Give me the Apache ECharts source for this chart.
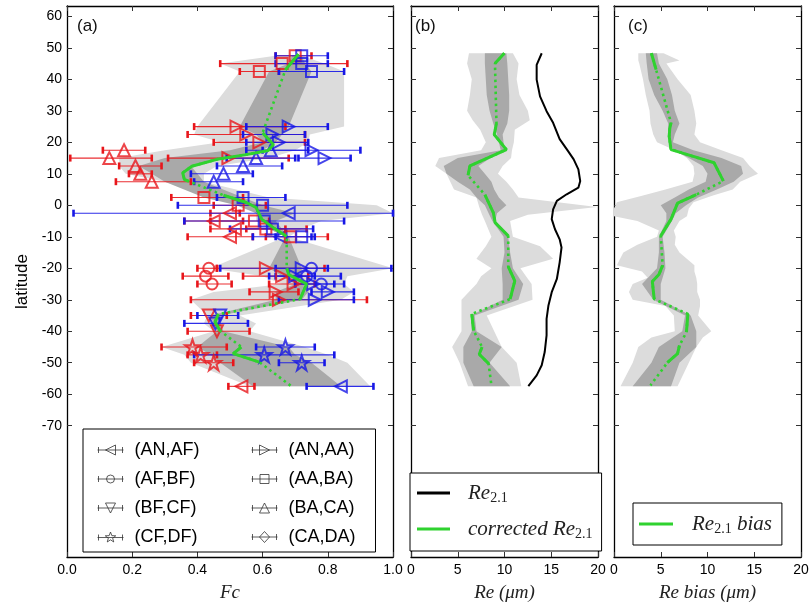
<!DOCTYPE html>
<html>
<head>
<meta charset="utf-8">
<script src="https://cdn.jsdelivr.net/npm/echarts@6/dist/echarts.min.js"></script>
<style>
  html, body { margin: 0; padding: 0; background: #fff; }
  #chart { width: 812px; height: 607px; }
</style>
</head>
<body>
<div id="chart"></div>
<script>
// ---- data: [lat, Fc, errLo, errHi] ----
const leftTriRed = [[-2.5,0.50,0.44,0.53],[-5,0.45,0.36,0.54],[-7.5,0.515,0.44,0.735],[-10,0.50,0.37,0.57],[-57.5,0.535,0.495,0.575]];
const leftTriBlue = [[-2.5,0.68,0.02,1.0],[-10,0.655,0.57,0.75],[-57.5,0.84,0.735,0.94]];
const circleRed = [[-20,0.435,0.40,0.46],[-22.5,0.425,0.355,0.495],[-25,0.445,0.40,0.505]];
const circleBlue = [[-20,0.75,0.47,0.995],[-22.5,0.735,0.62,0.84],[-25,0.78,0.70,0.85]];
const downTriRed = [[-35,0.435,0.38,0.49],[-40,0.46,0.37,0.56]];
const downTriBlue = [[-35,0.47,0.40,0.525],[-37.5,0.455,0.36,0.555]];
const starRed = [[-45,0.385,0.29,0.49],[-47.5,0.41,0.37,0.46],[-50,0.45,0.39,0.51]];
const starBlue = [[-45,0.67,0.58,0.76],[-47.5,0.605,0.39,0.82],[-50,0.72,0.65,0.79]];
const rightTriRed = [[25,0.52,0.39,0.67],[22.5,0.55,0.37,0.73],[20,0.59,0.45,0.73],[15,0.495,0.31,0.68],[-20,0.61,0.46,0.79],[-22.5,0.66,0.54,0.74],[-25,0.695,0.62,0.76],[-27.5,0.64,0.56,0.71],[-30,0.65,0.38,0.92]];
const rightTriBlue = [[25,0.68,0.55,0.80],[22.5,0.63,0.54,0.73],[20,0.65,0.55,0.74],[17.5,0.75,0.60,0.90],[15,0.79,0.71,0.87],[-20,0.72,0.64,0.80],[-22.5,0.70,0.64,0.76],[-25,0.755,0.70,0.82],[-27.5,0.80,0.75,0.88],[-30,0.76,0.65,0.88]];
const squareRed = [[47.5,0.70,0.64,0.75],[45,0.66,0.47,0.86],[42.5,0.59,0.53,0.65],[2.5,0.42,0.32,0.54],[0,0.525,0.45,0.61],[-5,0.575,0.44,0.62],[-7.5,0.61,0.55,0.67],[-10,0.685,0.61,0.80]];
const squareBlue = [[47.5,0.72,0.64,0.80],[45,0.72,0.64,0.80],[42.5,0.75,0.65,0.85],[2.5,0.54,0.46,0.67],[0,0.60,0.34,0.86],[-5,0.605,0.36,0.85],[-7.5,0.63,0.50,0.755],[-10,0.72,0.64,0.76]];
const upTriRed = [[17.5,0.175,0.11,0.24],[15,0.13,0.01,0.26],[12.5,0.21,0.16,0.29],[10,0.225,0.19,0.26],[7.5,0.26,0.15,0.38]];
const upTriBlue = [[17.5,0.625,0.55,0.74],[15,0.58,0.49,0.70],[12.5,0.54,0.46,0.66],[10,0.48,0.38,0.57],[7.5,0.45,0.39,0.54]];
const diamondRed = [];
const diamondBlue = [];

// ---- shaded bands: [lat, lo, hi] ----
const bandLightA = [[47.5,0.64,0.72],[45,0.47,0.79],[42.5,0.53,0.85],[25,0.40,0.85],[22.5,0.39,0.745],[20,0.47,0.74],[17.5,0.30,0.70],[15,0.16,0.62],[12.5,0.16,0.46],[10,0.18,0.42],[7.5,0.30,0.42],[2.5,0.45,0.62],[0,0.55,0.95],[-2.5,0.58,1.0],[-5,0.58,0.78],[-7.5,0.62,0.72],[-10,0.67,0.68],[-20,0.44,1.0],[-22.5,0.60,0.86],[-25,0.66,0.85],[-27.5,0.45,0.88],[-30,0.38,0.84],[-35,0.43,0.53],[-37.5,0.42,0.58],[-40,0.45,0.56],[-45,0.29,0.73],[-47.5,0.36,0.80],[-50,0.38,0.86],[-57.5,0.56,0.93]];
const bandDarkA = [[47.5,0.69,0.72],[45,0.68,0.73],[42.5,0.62,0.75],[25,0.53,0.68],[22.5,0.58,0.66],[20,0.60,0.64],[17.5,0.50,0.60],[15,0.30,0.48],[12.5,0.22,0.38],[10,0.26,0.40],[7.5,0.30,0.42],[2.5,0.42,0.54],[0,0.52,0.60],[-2.5,0.58,0.70],[-5,0.60,0.64],[-7.5,0.62,0.66],[-10,0.67,0.68],[-20,0.62,0.72],[-22.5,0.66,0.72],[-25,0.70,0.74],[-27.5,0.64,0.74],[-30,0.64,0.72],[-35,0.44,0.47],[-37.5,0.45,0.47],[-40,0.46,0.48],[-45,0.40,0.68],[-47.5,0.44,0.70],[-50,0.47,0.75],[-57.5,0.57,0.84]];
const bandLightB = [[48.3,6.2,10.9],[45,6.0,11.5],[40,6.5,11.3],[35,6.3,11.6],[30,6.0,12.5],[27,6.6,12.7],[24,7.4,11.1],[20,8.0,11.0],[17.5,7.5,10.8],[15,3.0,10.7],[12.5,2.6,9.8],[10,3.8,9.3],[7.5,4.2,10.2],[5,4.6,10.9],[2.5,7.0,11.5],[-0.5,7.3,19.9],[-3,7.6,12.5],[-5,7.9,10.6],[-10,8.6,10.9],[-13,8.0,13.8],[-17,7.0,15.2],[-20,8.6,11.7],[-22.5,7.5,12.3],[-25,7.0,12.9],[-30,5.4,13.0],[-35,5.4,8.1],[-40,5.4,8.9],[-45,4.4,9.7],[-50,5.2,11.3],[-57.5,6.1,11.8]];
const bandDarkB = [[48.3,7.9,10.2],[45,7.9,10.3],[35,8.1,10.5],[30,8.4,10.5],[26,8.8,10.3],[22.5,9.2,9.8],[17.5,9.6,10.0],[15,5.0,8.5],[12.5,3.5,7.2],[10,3.8,7.9],[7.5,5.0,8.6],[5,6.3,8.9],[2.5,7.0,9.4],[0,7.9,10.2],[-2.5,8.3,9.2],[-5,8.7,9.0],[-10,9.9,10.4],[-15,10.0,10.6],[-20,9.7,10.9],[-25,9.8,12.0],[-30,9.8,11.5],[-35,6.4,6.8],[-40,6.5,7.0],[-45,5.6,9.7],[-50,5.6,8.4],[-57.5,6.7,10.6]];
const bandLightC = [[48.3,2.6,5.3],[46,2.6,7.0],[45,2.7,5.6],[40,3.1,6.8],[35,3.4,8.2],[30,3.8,8.6],[26,3.9,8.8],[22.5,4.2,8.6],[20,4.6,9.2],[17.5,6.5,11.5],[15,7.8,13.8],[12.5,8.5,14.5],[10,8.6,15.4],[7.5,8.4,13.5],[5,5.5,12.7],[3,3.0,10.5],[1,0.3,8.5],[-1,0,8.0],[-3.5,0,7.8],[-5,2.5,7.0],[-8,4.8,6.4],[-10,4.6,6.6],[-12.5,2.5,6.5],[-15,1.0,7.0],[-19,0.3,8.6],[-21,3.0,8.6],[-23,3.6,8.8],[-25,2.0,8.9],[-27.5,1.6,8.9],[-30,2.0,9.2],[-32,5.5,9.2],[-35,6.4,9.0],[-40,6.5,10.4],[-42,4.0,9.5],[-45,2.6,8.8],[-50,2.0,8.0],[-57.5,0.7,6.8]];
const bandDarkC = [[48.3,3.4,4.6],[45,3.5,4.8],[40,3.7,5.7],[35,4.3,6.2],[30,5.2,6.5],[26,5.8,7.0],[22.5,5.8,6.5],[20,5.9,6.3],[17.5,6.4,8.5],[15,8.0,11.5],[12.5,9.5,13.6],[10,10.0,13.8],[7.5,9.8,12.8],[5,8.0,11.0],[2.5,6.5,9.0],[0,5.0,7.7],[-2.5,5.6,6.6],[-5,5.6,6.2],[-10,4.8,5.2],[-15,4.8,5.4],[-20,4.6,5.5],[-25,3.0,5.0],[-30,4.2,5.0],[-35,7.6,8.2],[-40,7.3,8.8],[-45,4.8,8.8],[-50,4.0,7.0],[-57.5,2.0,6.1]];

// ---- lines: [x, lat, solidToNext] ----
const greenA = [[0.71,48,1],[0.69,45.5,1],[0.67,43,0],[0.60,23,1],[0.633,19.3,1],[0.617,17.4,1],[0.55,16.1,1],[0.46,14.6,1],[0.383,12.4,1],[0.355,10.3,1],[0.36,8.2,1],[0.372,7.7,0],[0.48,3.2,1],[0.55,0.9,1],[0.58,-0.7,1],[0.59,-2.8,1],[0.597,-4.4,1],[0.633,-7.1,1],[0.674,-9.9,0],[0.674,-20,1],[0.68,-22,1],[0.735,-25,1],[0.715,-29.8,0],[0.464,-34.6,1],[0.454,-37.1,1],[0.47,-39.9,0],[0.535,-45,1],[0.51,-47.1,1],[0.59,-49.8,0],[0.69,-57.6,0]];
const greenB = [[9.98,48.3,1],[8.98,45,0],[9.14,26,1],[8.9,22.5,1],[10.2,17.7,1],[6.3,12.5,1],[6.1,9.5,0],[7.9,3.4,1],[8.8,-2.3,1],[9.0,-5.5,1],[10.4,-9.7,0],[10.4,-19.5,1],[11.1,-24,1],[10.6,-29.8,0],[6.5,-34.5,1],[6.7,-39.8,0],[7.6,-45,1],[7.3,-47.3,1],[8.3,-50.3,0],[8.6,-57.2,0]];
const greenC = [[4.0,48.3,1],[4.5,43.1,0],[6.1,26.2,1],[5.97,24.5,1],[5.9,21.9,1],[6.1,17.7,1],[8.4,15.6,1],[10.7,13.5,1],[11.7,7.7,0],[8.8,3.4,1],[6.8,0.7,1],[6.1,-4.4,1],[5.0,-9.7,0],[5.2,-19.1,1],[4.8,-22,1],[4.1,-24.2,1],[4.3,-29.8,0],[7.9,-34.5,1],[7.75,-40.3,0],[7.0,-44.5,1],[6.8,-47.1,1],[5.7,-50,0],[3.9,-57.2,0]];
const blackB = [[13.98,48.3],[13.44,44.6],[13.44,39.9],[13.8,34.6],[14.5,29.9],[15.2,26.2],[15.9,21.0],[16.8,17.2],[17.4,14.6],[17.9,11.4],[18.1,7.7],[17.9,5.6],[16.65,3.5],[15.6,1.4],[15.2,-1.3],[15.05,-4.4],[15.4,-7.6],[15.9,-10.8],[16.1,-13.4],[15.9,-18.1],[15.6,-23.4],[15.05,-27.6],[14.7,-31.8],[14.5,-36.1],[14.5,-41.3],[14.3,-46.6],[13.98,-50.8],[13.44,-54],[12.55,-57.4]];

const latTicks = [-70, -60, -50, -40, -30, -20, -10, 0, 10, 20, 30, 40, 50, 60];

const RED = '#e8161b';
const BLUE = '#1717e6';
const GREEN = '#2fd22f';
const LIGHT = '#dcdcdc';
const DARK = '#a9a9a9';
const SANS = '"Liberation Sans", Arial, sans-serif';
const SERIF = '"Liberation Serif", "DejaVu Serif", serif';

const bar = 'M0,6H26M1,3V9M25,3V9';
const shapes = [
  { name: '(AN,AF)', symbol: 'path://M0,5L10,0L10,10Z', size: 12, red: leftTriRed, blue: leftTriBlue, icon: bar + 'M8,6L18,1L18,11Z' },
  { name: '(AF,BF)', symbol: 'circle', size: 11, red: circleRed, blue: circleBlue, icon: bar + 'M17,6A4,4,0,1,1,9,6A4,4,0,1,1,17,6Z' },
  { name: '(BF,CF)', symbol: 'path://M0,0L10,0L5,10Z', size: 12, red: downTriRed, blue: downTriBlue, icon: bar + 'M8,1H18L13,11Z' },
  { name: '(CF,DF)', symbol: 'path://M5,0L6.2,3.6L10,3.6L6.9,5.9L8.1,9.5L5,7.3L1.9,9.5L3.1,5.9L0,3.6L3.8,3.6Z', size: 15, red: starRed, blue: starBlue, icon: bar + 'M13,0.5L14.35,4.14L18.23,4.3L15.19,6.71L16.23,10.45L13,8.3L9.77,10.45L10.81,6.71L7.77,4.3L11.65,4.14Z' },
  { name: '(AN,AA)', symbol: 'path://M10,5L0,0L0,10Z', size: 12, red: rightTriRed, blue: rightTriBlue, icon: bar + 'M8,1L18,6L8,11Z' },
  { name: '(AA,BA)', symbol: 'rect', size: 11, red: squareRed, blue: squareBlue, icon: bar + 'M8.5,1.5H17.5V10.5H8.5Z' },
  { name: '(BA,CA)', symbol: 'triangle', size: 12, red: upTriRed, blue: upTriBlue, icon: bar + 'M8,11L13,1L18,11Z' },
  { name: '(CA,DA)', symbol: 'diamond', size: 12, red: diamondRed, blue: diamondBlue, icon: bar + 'M13,0.5L18,6L13,11.5L8,6Z' }
];

// ---- layout ----
const grids = [
  { left: 67, top: 6, width: 326, height: 553 },
  { left: 411, top: 6, width: 187, height: 553 },
  { left: 614, top: 6, width: 187, height: 553 }
];
const yMin = -111.7, yMax = 63.3;
const frameLine = { show: true, onZero: false, lineStyle: { color: '#000', width: 1.3 } };
const tickIn = { inside: true, length: 5, lineStyle: { color: '#333', width: 1 } };
const axisName = { fontFamily: SERIF, fontStyle: 'italic', fontSize: 19, color: '#222' };

const xRanges = [
  { max: 1, interval: 0.2, name: 'Fc', fmt: v => v.toFixed(1) },
  { max: 20, interval: 5, name: 'Re (μm)', fmt: v => String(v) },
  { max: 20, interval: 5, name: 'Re bias (μm)', fmt: v => String(v) }
];

const xAxis = [], yAxis = [];
grids.forEach((g, i) => {
  const r = xRanges[i];
  xAxis.push({
    type: 'value', gridIndex: i, min: 0, max: r.max, interval: r.interval, position: 'bottom',
    axisLine: frameLine, axisTick: tickIn, splitLine: { show: false },
    axisLabel: { formatter: r.fmt, fontFamily: SANS, fontSize: 14, color: '#000', margin: 6, showMinLabel: true, showMaxLabel: true },
    name: r.name, nameLocation: 'middle', nameGap: 26, nameTextStyle: axisName
  });
  xAxis.push({
    type: 'value', gridIndex: i, min: 0, max: r.max, interval: r.interval, position: 'top',
    axisLine: frameLine, axisTick: tickIn, splitLine: { show: false }, axisLabel: { show: false }
  });
  yAxis.push({
    type: 'value', gridIndex: i, min: yMin, max: yMax, position: 'left',
    axisLine: frameLine, splitLine: { show: false },
    axisTick: Object.assign({ customValues: latTicks }, tickIn),
    axisLabel: { show: i === 0, customValues: latTicks, fontFamily: SANS, fontSize: 14, color: '#000', margin: 5 },
    name: i === 0 ? 'latitude' : '', nameLocation: 'middle', nameGap: 36, nameRotate: 90,
    nameTextStyle: { fontFamily: SANS, fontSize: 17, color: '#000' }
  });
  yAxis.push({
    type: 'value', gridIndex: i, min: yMin, max: yMax, position: 'right',
    axisLine: frameLine, splitLine: { show: false },
    axisTick: Object.assign({ customValues: latTicks }, tickIn),
    axisLabel: { show: false }
  });
});

// ---- series builders ----
function bandSeries(band, color, gi, z) {
  return {
    type: 'custom', xAxisIndex: gi * 2, yAxisIndex: gi * 2, z: z, silent: true,
    dimensions: ['lat', 'lo', 'hi'], encode: { x: ['lo', 'hi'], y: 'lat' },
    data: band,
    renderItem: function (params, api) {
      if (params.dataIndex !== 0) return null;
      const pts = [];
      band.forEach(r => pts.push(api.coord([r[1], r[0]])));
      for (let k = band.length - 1; k >= 0; k--) pts.push(api.coord([band[k][2], band[k][0]]));
      return { type: 'polygon', shape: { points: pts }, style: { fill: color } };
    }
  };
}

function errSeries(data, color) {
  return {
    type: 'custom', xAxisIndex: 0, yAxisIndex: 0, z: 3, silent: true,
    dimensions: ['lat', 'fc', 'lo', 'hi'], encode: { x: ['lo', 'hi'], y: 'lat' },
    itemStyle: { color: color },
    data: data,
    renderItem: function (params, api) {
      const lat = api.value(0);
      const a = api.coord([api.value(2), lat]);
      const b = api.coord([api.value(3), lat]);
      const st = { stroke: color, lineWidth: 1.1, opacity: 0.9 };
      const cap = { stroke: color, lineWidth: 2.6 };
      return {
        type: 'group', children: [
          { type: 'line', shape: { x1: a[0], y1: a[1], x2: b[0], y2: b[1] }, style: st },
          { type: 'line', shape: { x1: a[0], y1: a[1] - 3.5, x2: a[0], y2: a[1] + 3.5 }, style: cap },
          { type: 'line', shape: { x1: b[0], y1: b[1] - 3.5, x2: b[0], y2: b[1] + 3.5 }, style: cap }
        ]
      };
    }
  };
}

function markerSeries(shape, data, color) {
  return {
    type: 'scatter', name: shape.name, xAxisIndex: 0, yAxisIndex: 0, z: 4,
    symbol: shape.symbol, symbolSize: shape.size,
    dimensions: ['lat', 'fc', 'lo', 'hi'], encode: { x: 'fc', y: 'lat' },
    itemStyle: { color: 'rgba(0,0,0,0)', borderColor: color, borderWidth: 2 },
    emphasis: { disabled: true },
    data: data
  };
}

function lineSeries(name, pts, gi, color, width, dotted) {
  return {
    type: 'line', name: name, xAxisIndex: gi * 2, yAxisIndex: gi * 2, z: 6,
    showSymbol: false, symbol: 'none', silent: true,
    lineStyle: { color: color, width: width, type: dotted ? [2.5, 3.5] : 'solid', cap: 'butt' },
    itemStyle: { color: color },
    data: pts
  };
}

function greenSeries(points, gi, legendName) {
  const out = [];
  out.push(lineSeries('dotted-' + gi, points.map(p => [p[0], p[1]]), gi, GREEN, 2.6, true));
  let cur = [];
  let first = true;
  points.forEach(p => {
    cur.push([p[0], p[1]]);
    if (!p[2]) {
      if (cur.length > 1) {
        out.push(lineSeries(first ? legendName : 'solid-' + gi, cur, gi, GREEN, 3, false));
        first = false;
      }
      cur = [];
    }
  });
  return out;
}

const series = [];
series.push(bandSeries(bandLightA, LIGHT, 0, 1), bandSeries(bandDarkA, DARK, 0, 2));
series.push(bandSeries(bandLightB, LIGHT, 1, 1), bandSeries(bandDarkB, DARK, 1, 2));
series.push(bandSeries(bandLightC, LIGHT, 2, 1), bandSeries(bandDarkC, DARK, 2, 2));

let allRed = [], allBlue = [];
shapes.forEach(s => { allRed = allRed.concat(s.red); allBlue = allBlue.concat(s.blue); });
series.push(errSeries(allRed, RED), errSeries(allBlue, BLUE));
shapes.forEach(s => { series.push(markerSeries(s, s.red, RED), markerSeries(s, s.blue, BLUE)); });

series.push(...greenSeries(greenA, 0, 'greenA'));
series.push(lineSeries('Re2.1', blackB, 1, '#000', 2, false));
series.push(...greenSeries(greenB, 1, 'corrected Re2.1'));
series.push(...greenSeries(greenC, 2, 'Re2.1 bias'));

// ---- legends ----
// panel (a) legend: two columns; the first one carries the frame of the whole box
function markerLegend(list, left, framed) {
  return {
    orient: 'vertical', left: left, top: 429,
    padding: framed ? [12, 176, 6, 12] : [12, 0, 6, 12],
    itemGap: 11, itemWidth: 26, itemHeight: 12,
    borderColor: framed ? '#000' : 'transparent', borderWidth: framed ? 1 : 0, borderRadius: 0,
    backgroundColor: framed ? '#fff' : 'transparent',
    selectedMode: false,
    textStyle: { fontFamily: SANS, fontSize: 18, color: '#000', padding: [0, 0, 0, 6] },
    data: list.map(s => ({
      name: s.name, icon: 'path://' + s.icon,
      itemStyle: { color: 'none', borderColor: '#333', borderWidth: 1 }
    }))
  };
}
const legendA1 = markerLegend(shapes.slice(0, 4), 83, true);
const legendA2 = markerLegend(shapes.slice(4), 237, false);

const mathRich = {
  i: { fontFamily: SERIF, fontStyle: 'italic', fontSize: 21, color: '#222', lineHeight: 24 },
  s: { fontFamily: SERIF, fontSize: 14, color: '#222', padding: [10, 0, 0, 0], lineHeight: 24 }
};
const mathFmt = name => {
  if (name === 'Re2.1') return '{i|Re}{s|2.1}';
  if (name === 'corrected Re2.1') return '{i|corrected Re}{s|2.1}';
  return '{i|Re}{s|2.1}{i| bias}';
};
const legendB = {
  orient: 'vertical', left: 410, top: 473,
  padding: [8, 9, 10, 7], itemGap: 12, itemWidth: 33, itemHeight: 3, icon: 'rect',
  borderColor: '#000', borderWidth: 1, borderRadius: 0, backgroundColor: '#fff',
  selectedMode: false, formatter: mathFmt,
  textStyle: { padding: [0, 0, 0, 13], rich: mathRich },
  data: ['Re2.1', 'corrected Re2.1']
};
const legendC = {
  orient: 'vertical', left: 633, top: 503,
  padding: [9, 10, 9, 6], itemGap: 10, itemWidth: 34, itemHeight: 3, icon: 'rect',
  borderColor: '#000', borderWidth: 1, borderRadius: 0, backgroundColor: '#fff',
  selectedMode: false, formatter: mathFmt,
  textStyle: { padding: [0, 0, 0, 14], rich: mathRich },
  data: ['Re2.1 bias']
};

const titleStyle = { fontFamily: SANS, fontSize: 17, fontWeight: 'normal', color: '#111' };
const option = {
  animation: false,
  backgroundColor: '#fff',
  title: [
    { text: '(a)', left: 77, top: 18, padding: 0, textStyle: titleStyle },
    { text: '(b)', left: 415, top: 18, padding: 0, textStyle: titleStyle },
    { text: '(c)', left: 628, top: 18, padding: 0, textStyle: titleStyle }
  ],
  grid: grids,
  xAxis: xAxis,
  yAxis: yAxis,
  legend: [legendA1, legendA2, legendB, legendC],
  series: series
};

const chart = echarts.init(document.getElementById('chart'), null, { renderer: 'canvas' });
chart.setOption(option);
</script>
</body>
</html>
